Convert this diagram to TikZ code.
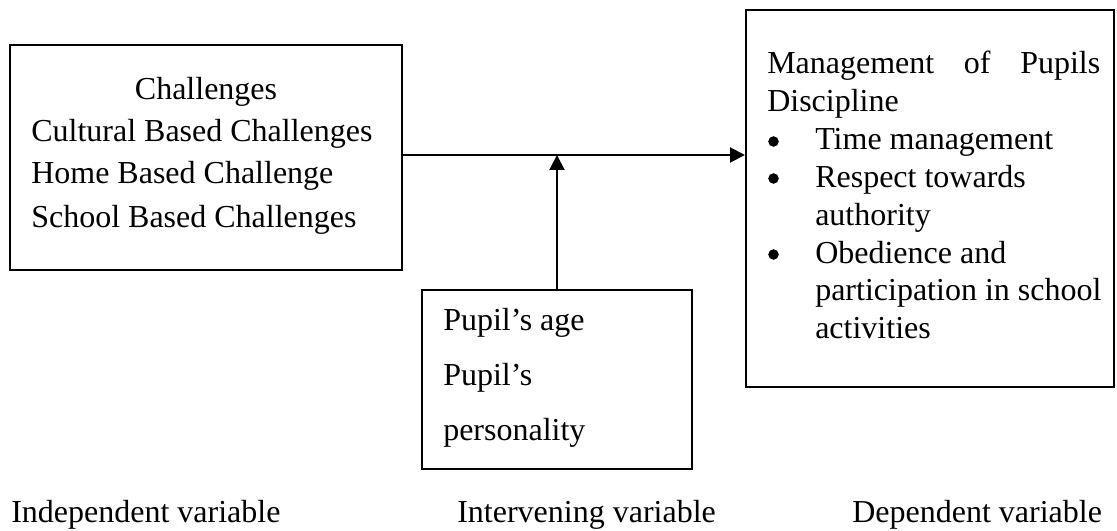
\documentclass[tikz,border=0pt]{standalone}
\usepackage{fontspec}
\setmainfont{Liberation Serif}
\usetikzlibrary{arrows.meta}
\begin{document}
\begin{tikzpicture}[x=0.75pt,y=-0.75pt,
  box/.style={draw,line width=1.5pt,inner sep=0pt},
  txt/.style={anchor=base west,inner sep=0pt,font=\fontsize{24}{28}\selectfont},
  ctxt/.style={txt,anchor=base},
  bul/.style={circle,fill,inner sep=0pt,minimum size=7.9pt},
  arr/.style={line width=1.5pt,-{Triangle[length=11.25pt,width=11.25pt]}}]
\useasboundingbox (0,0) rectangle (1117,531);
% boxes
\node[box,minimum width=294pt,minimum height=168.75pt] (lb) at (206,157.5) {};
\node[box,minimum width=202.5pt,minimum height=134.25pt] (mb) at (557,379.5) {};
\node[box,minimum width=276pt,minimum height=282.75pt] (rb) at (930,198.5) {};
% left box text
\node[ctxt] (l0) at (206,100) {Challenges};
\node[txt] (l1) at (31,142) {Cultural Based Challenges};
\node[txt] (l2) at (31,184) {Home Based Challenge};
\node[txt] (l3) at (31,227) {School Based Challenges};
% middle box text
\node[txt] (m1) at (443,330) {Pupil’s age};
\node[txt] (m2) at (443,385) {Pupil’s};
\node[txt] (m3) at (443,440) {personality};
% right box text
\node[txt] (r0) at (767,74) {\hbox to 249.75pt{Management\hfill of\hfill Pupils}};
\node[txt] (r1) at (767,112) {Discipline};
\node[bul] (b1) at (773.5,141.5) {};
\node[txt] (r2) at (815,150) {Time management};
\node[bul] (b2) at (773.5,178.5) {};
\node[txt] (r3) at (815,187) {Respect towards};
\node[txt] (r4) at (815,225) {authority};
\node[bul] (b3) at (773.5,254.5) {};
\node[txt] (r5) at (815,263) {Obedience and};
\node[txt] (r6) at (815,300) {participation in school};
\node[txt] (r7) at (815,338) {activities};
% bottom labels
\node[txt] (v1) at (11,522) {Independent variable};
\node[txt] (v2) at (457,522) {Intervening variable};
\node[txt] (v3) at (852,522) {Dependent variable};
% connectors
\coordinate (j) at (557,155);
\draw[arr] (lb.east |- j) -- (rb.west |- j);
\draw[arr] (mb.north) -- (j);
\end{tikzpicture}
\end{document}
